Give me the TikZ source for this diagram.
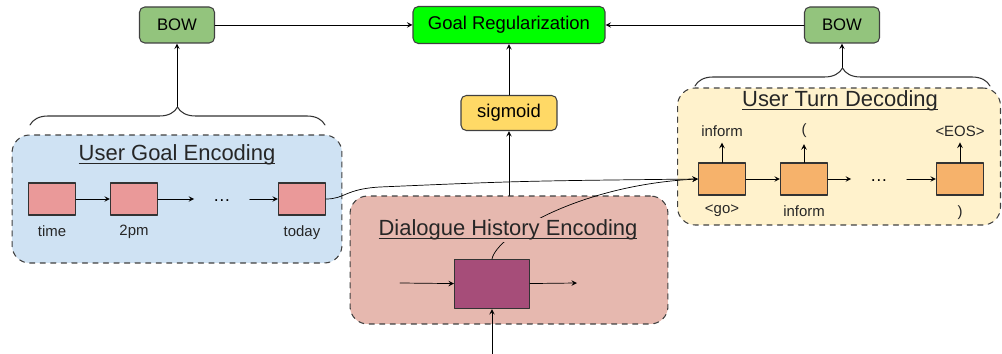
\documentclass[tikz,border=0pt]{standalone}
\usepackage{fontspec}
\setmainfont{Liberation Sans}
\usetikzlibrary{positioning,decorations.pathreplacing}
\definecolor{goalblue}{HTML}{CFE2F3}
\definecolor{histred}{HTML}{E6B8AF}
\definecolor{turnyellow}{HTML}{FFF2CC}
\definecolor{bowgreen}{HTML}{93C47D}
\definecolor{reggreen}{HTML}{00FF00}
\definecolor{sigyellow}{HTML}{FFD966}
\definecolor{tokpink}{HTML}{EA9999}
\definecolor{tokorange}{HTML}{F6B26B}
\definecolor{cellpurple}{HTML}{A64D79}
\newcommand\ulttl[1]{\setbox0\hbox{#1}\rlap{\rule[-1.7pt]{\wd0}{0.6pt}}\box0}
\tikzset{
	region/.style={draw=black!75, dashed, line width=0.6pt, rounded corners=10pt},
	block/.style={draw=black!75, line width=0.6pt, rounded corners=3pt, inner sep=0pt},
	tokbox/.style={draw=black!80, line width=0.6pt, minimum width=0.94cm, minimum height=0.64cm, inner sep=0pt},
	lbl/.style={font=\fontsize{8.5}{10}\selectfont, text=black!85},
	dots/.style={minimum width=1.1cm, inner sep=0pt, text height=2.5pt, text depth=0pt},
	ttl/.style={font=\fontsize{12.5}{15}\selectfont, text=black!85},
	bracedeco/.style={decorate, decoration={brace, amplitude=0.36cm}, line width=0.6pt, black!80}
}
\begin{document}
\begin{tikzpicture}[x=0.02cm, y=-0.02cm, line join=round, line cap=round, >=stealth, thin]
				\useasboundingbox (0,0) rectangle (1002,354);
				\node[region, fill=goalblue, minimum width=6.6cm, minimum height=2.56cm] (goalreg) at (177,199) {};
				\node[region, fill=histred, minimum width=6.36cm, minimum height=2.56cm] (histreg) at (509,260) {};
				\node[region, fill=turnyellow, minimum width=6.46cm, minimum height=2.74cm] (turnreg) at (839,156.5) {};
				\node[block, fill=bowgreen, minimum width=1.5cm, minimum height=0.72cm, font=\fontsize{9.5}{11}\selectfont] (bowL) at (177,25) {BOW};
				\node[block, fill=bowgreen, minimum width=1.5cm, minimum height=0.72cm, font=\fontsize{9.5}{11}\selectfont] (bowR) at (842,25) {BOW};
				\node[block, fill=reggreen, minimum width=3.84cm, minimum height=0.74cm, font=\fontsize{10.5}{12}\selectfont] (goal) at (509,25) {Goal Regularization};
				\node[block, fill=sigyellow, minimum width=1.92cm, minimum height=0.7cm, font=\fontsize{10.5}{12}\selectfont] (sig) at (509,113) {sigmoid};
				\node[ttl] (goalttl) at (177,155) {\ulttl{User Goal Encoding}};
				\node[ttl] (turnttl) at (840,101) {\ulttl{User Turn Decoding}};
				\foreach \n/\x/\w in {g1/52/time, g2/134/2pm, g3/302/today}
					\node[tokbox, fill=tokpink, label={[lbl, label distance=2pt]below:\w}] (\n) at (\x,199) {};
				\foreach \n/\x/\w in {d1/722/{<go>}, d2/804/inform, d3/960/{)}}
					\node[tokbox, fill=tokorange, label={[lbl, label distance=2pt]below:\w}] (\n) at (\x,179) {};
				\foreach \n/\x/\w in {o1/722/inform, o2/804/{(}, o3/960/{<EOS>}}
					\node[lbl] (\n) at (\x,131) {\w};
				\node[dots] (gdots) at (222,199) {\dots};
				\node[dots] (ddots) at (879,179) {\dots};
				\node[tokbox, fill=cellpurple, minimum width=1.5cm, minimum height=0.98cm] (cell) at (492,284) {};
				\path (400,283) coordinate (hin)
				(577,283) coordinate (hout)
				(492,354) coordinate (hbot)
				(177,107) coordinate (gtip)
				(842,68) coordinate (dtip);
				\draw[->] (g3.east) .. controls (345,199) and (345,189) .. (380,187) .. controls (520,181) .. (d1.west);
				\draw[->] (cell.north) .. controls (497,235) and (580,185) .. (d1.west);
				\node[ttl, fill=histred, inner sep=1pt] (histttl) at (508,230) {\ulttl{Dialogue History Encoding}};
				\foreach \a/\b in {g1/g2, g2/gdots, gdots/g3, d1/d2, d2/ddots, ddots/d3, d1/o1, d2/o2, d3/o3, hin/cell, cell/hout, hbot/cell, histreg/sig, sig/goal, bowL/goal, bowR/goal, gtip/bowL, dtip/bowR}
					\draw[->] (\a) -- (\b);
				\draw[bracedeco] (30,125) -- (325,125);
				\draw[bracedeco] (695,86) -- (990,86);
	\end{tikzpicture}
\end{document}
